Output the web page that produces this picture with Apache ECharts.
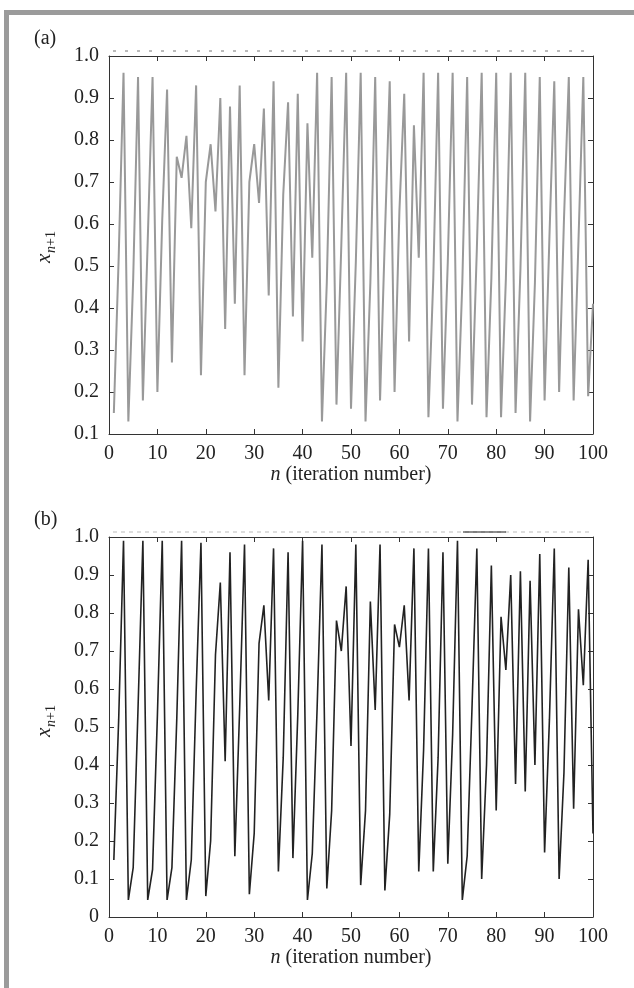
<!DOCTYPE html>
<html>
<head>
<meta charset="utf-8">
<script src="https://cdn.jsdelivr.net/npm/echarts@6/dist/echarts.min.js"></script>
<style>
html,body{margin:0;padding:0;background:#fff;}
#chart{width:634px;height:988px;}
</style>
</head>
<body>
<div id="chart"></div>
<script>
// iteration numbers
const iterations = [];
for (let i = 1; i <= 100; i++) iterations.push(i);

// panel (a) values x_{n+1}
const seriesA = [
  0.15, 0.52, 0.96, 0.13, 0.47, 0.95, 0.18, 0.56, 0.95, 0.20,
  0.61, 0.92, 0.27, 0.76, 0.71, 0.81, 0.59, 0.93, 0.24, 0.70,
  0.79, 0.63, 0.90, 0.35, 0.88, 0.41, 0.93, 0.24, 0.70, 0.79,
  0.65, 0.875, 0.43, 0.94, 0.21, 0.67, 0.89, 0.38, 0.91, 0.32,
  0.84, 0.52, 0.96, 0.13, 0.46, 0.95, 0.17, 0.55, 0.96, 0.16,
  0.51, 0.96, 0.13, 0.46, 0.95, 0.18, 0.57, 0.94, 0.20, 0.63,
  0.91, 0.32, 0.835, 0.52, 0.96, 0.14, 0.47, 0.96, 0.16, 0.51,
  0.96, 0.13, 0.46, 0.95, 0.17, 0.54, 0.96, 0.14, 0.47, 0.96,
  0.14, 0.47, 0.96, 0.15, 0.49, 0.96, 0.13, 0.46, 0.95, 0.18,
  0.57, 0.94, 0.20, 0.61, 0.95, 0.18, 0.56, 0.95, 0.19, 0.41
];

// panel (b) values x_{n+1}
const seriesB = [
  0.15, 0.52, 0.99, 0.045, 0.13, 0.55, 0.99, 0.045, 0.125, 0.53,
  0.99, 0.045, 0.13, 0.52, 0.99, 0.045, 0.15, 0.59, 0.985, 0.055,
  0.20, 0.69, 0.88, 0.41, 0.96, 0.16, 0.55, 0.98, 0.06, 0.22,
  0.72, 0.82, 0.57, 0.97, 0.12, 0.42, 0.96, 0.155, 0.53, 0.99,
  0.045, 0.167, 0.55, 0.98, 0.075, 0.28, 0.78, 0.70, 0.87, 0.45,
  0.98, 0.084, 0.28, 0.83, 0.545, 0.98, 0.07, 0.27, 0.77, 0.71,
  0.82, 0.57, 0.97, 0.12, 0.44, 0.97, 0.12, 0.42, 0.96, 0.14,
  0.48, 0.99, 0.045, 0.16, 0.55, 0.97, 0.10, 0.40, 0.925, 0.28,
  0.79, 0.65, 0.90, 0.35, 0.91, 0.33, 0.885, 0.40, 0.955, 0.17,
  0.52, 0.97, 0.10, 0.38, 0.92, 0.285, 0.81, 0.61, 0.94, 0.22
];

const xTicks = [0, 10, 20, 30, 40, 50, 60, 70, 80, 90, 100];
const yTicksA = [0.1, 0.2, 0.3, 0.4, 0.5, 0.6, 0.7, 0.8, 0.9, 1.0];
const yTicksB = [0, 0.1, 0.2, 0.3, 0.4, 0.5, 0.6, 0.7, 0.8, 0.9, 1.0];

const FONT = '"Liberation Serif", "Times New Roman", serif';
const AX = '#333';

function pairs(vals) { return iterations.map((n, i) => [n, vals[i]]); }

function xAxes(gi) {
  return [
    {
      type: 'value', gridIndex: gi, position: 'bottom',
      min: xTicks[0], max: xTicks[xTicks.length - 1], interval: 10,
      axisLine: { show: true, onZero: false, lineStyle: { color: AX, width: 1 } },
      axisTick: { show: true, inside: true, length: 5, lineStyle: { color: AX } },
      axisLabel: { show: true, margin: 10, color: '#222', fontFamily: FONT, fontSize: 20 },
      splitLine: { show: false },
      name: '{i|n} (iteration number)', nameLocation: 'middle', nameGap: 29,
      nameTextStyle: {
        color: '#222', fontFamily: FONT, fontSize: 20,
        rich: { i: { fontStyle: 'italic', fontFamily: FONT, fontSize: 20, color: '#222' } }
      }
    },
    {
      type: 'value', gridIndex: gi, position: 'top',
      min: xTicks[0], max: xTicks[xTicks.length - 1], interval: 10,
      axisLine: { show: true, onZero: false, lineStyle: { color: AX, width: 1 } },
      axisTick: { show: true, inside: true, length: 5, lineStyle: { color: AX } },
      axisLabel: { show: false }, splitLine: { show: false }
    }
  ];
}

function yAxes(gi, ticks) {
  const fmt = v => (Math.abs(v) < 1e-9 ? '0' : v.toFixed(1));
  return [
    {
      type: 'value', gridIndex: gi, position: 'left',
      min: ticks[0], max: ticks[ticks.length - 1], interval: 0.1,
      axisLine: { show: true, onZero: false, lineStyle: { color: AX, width: 1 } },
      axisTick: { show: true, inside: true, length: 5, lineStyle: { color: AX } },
      axisLabel: { show: true, margin: 10, color: '#222', fontFamily: FONT, fontSize: 20, formatter: fmt },
      splitLine: { show: false }
    },
    {
      type: 'value', gridIndex: gi, position: 'right',
      min: ticks[0], max: ticks[ticks.length - 1], interval: 0.1,
      axisLine: { show: true, onZero: false, lineStyle: { color: AX, width: 1 } },
      axisTick: { show: true, inside: true, length: 5, lineStyle: { color: AX } },
      axisLabel: { show: false }, splitLine: { show: false }
    }
  ];
}

function yName(cx, cy) {
  return {
    type: 'group', x: cx, y: cy, rotation: Math.PI / 2,
    children: [
      { type: 'text', x: -15, y: 0, style: { text: 'x', font: 'italic 21px ' + FONT, fill: '#222', textAlign: 'left', textVerticalAlign: 'middle' } },
      { type: 'text', x: -5, y: 7, style: { text: 'n', font: 'italic 14px ' + FONT, fill: '#222', textAlign: 'left', textVerticalAlign: 'middle' } },
      { type: 'text', x: 2, y: 7, style: { text: '+1', font: '14px ' + FONT, fill: '#222', textAlign: 'left', textVerticalAlign: 'middle' } }
    ]
  };
}

const chart = echarts.init(document.getElementById('chart'), null, { renderer: 'canvas' });
chart.setOption({
  animation: false,
  backgroundColor: '#fff',
  grid: [
    { left: 109, top: 56, width: 484, height: 378 },
    { left: 109, top: 537, width: 484, height: 380 }
  ],
  xAxis: [...xAxes(0), ...xAxes(1)],
  yAxis: [...yAxes(0, yTicksA), ...yAxes(1, yTicksB)],
  series: [
    {
      type: 'line', xAxisIndex: 0, yAxisIndex: 0, data: pairs(seriesA),
      showSymbol: false, lineStyle: { color: '#999', width: 2 }
    },
    {
      type: 'line', xAxisIndex: 2, yAxisIndex: 2, data: pairs(seriesB),
      showSymbol: false, lineStyle: { color: '#222', width: 1.6 }
    }
  ],
  graphic: [
    { type: 'rect', shape: { x: 4, y: 10, width: 630, height: 5 }, style: { fill: '#9b9b9b' } },
    { type: 'rect', shape: { x: 4, y: 10, width: 5, height: 978 }, style: { fill: '#9b9b9b' } },
    { type: 'text', x: 34, y: 39, style: { text: '(a)', font: '20px ' + FONT, fill: '#222', textVerticalAlign: 'middle' } },
    { type: 'text', x: 34, y: 520, style: { text: '(b)', font: '20px ' + FONT, fill: '#222', textVerticalAlign: 'middle' } },
    { type: 'line', shape: { x1: 113, y1: 51, x2: 593, y2: 51 }, style: { stroke: '#777', lineWidth: 1, lineDash: [3, 9] } },
    { type: 'line', shape: { x1: 113, y1: 532, x2: 593, y2: 532 }, style: { stroke: '#bbb', lineWidth: 1, lineDash: [4, 4] } },
    { type: 'line', shape: { x1: 463, y1: 532, x2: 506, y2: 532 }, style: { stroke: '#222', lineWidth: 1.2 } },
    yName(44, 248),
    yName(44, 722)
  ]
});
</script>
</body>
</html>
